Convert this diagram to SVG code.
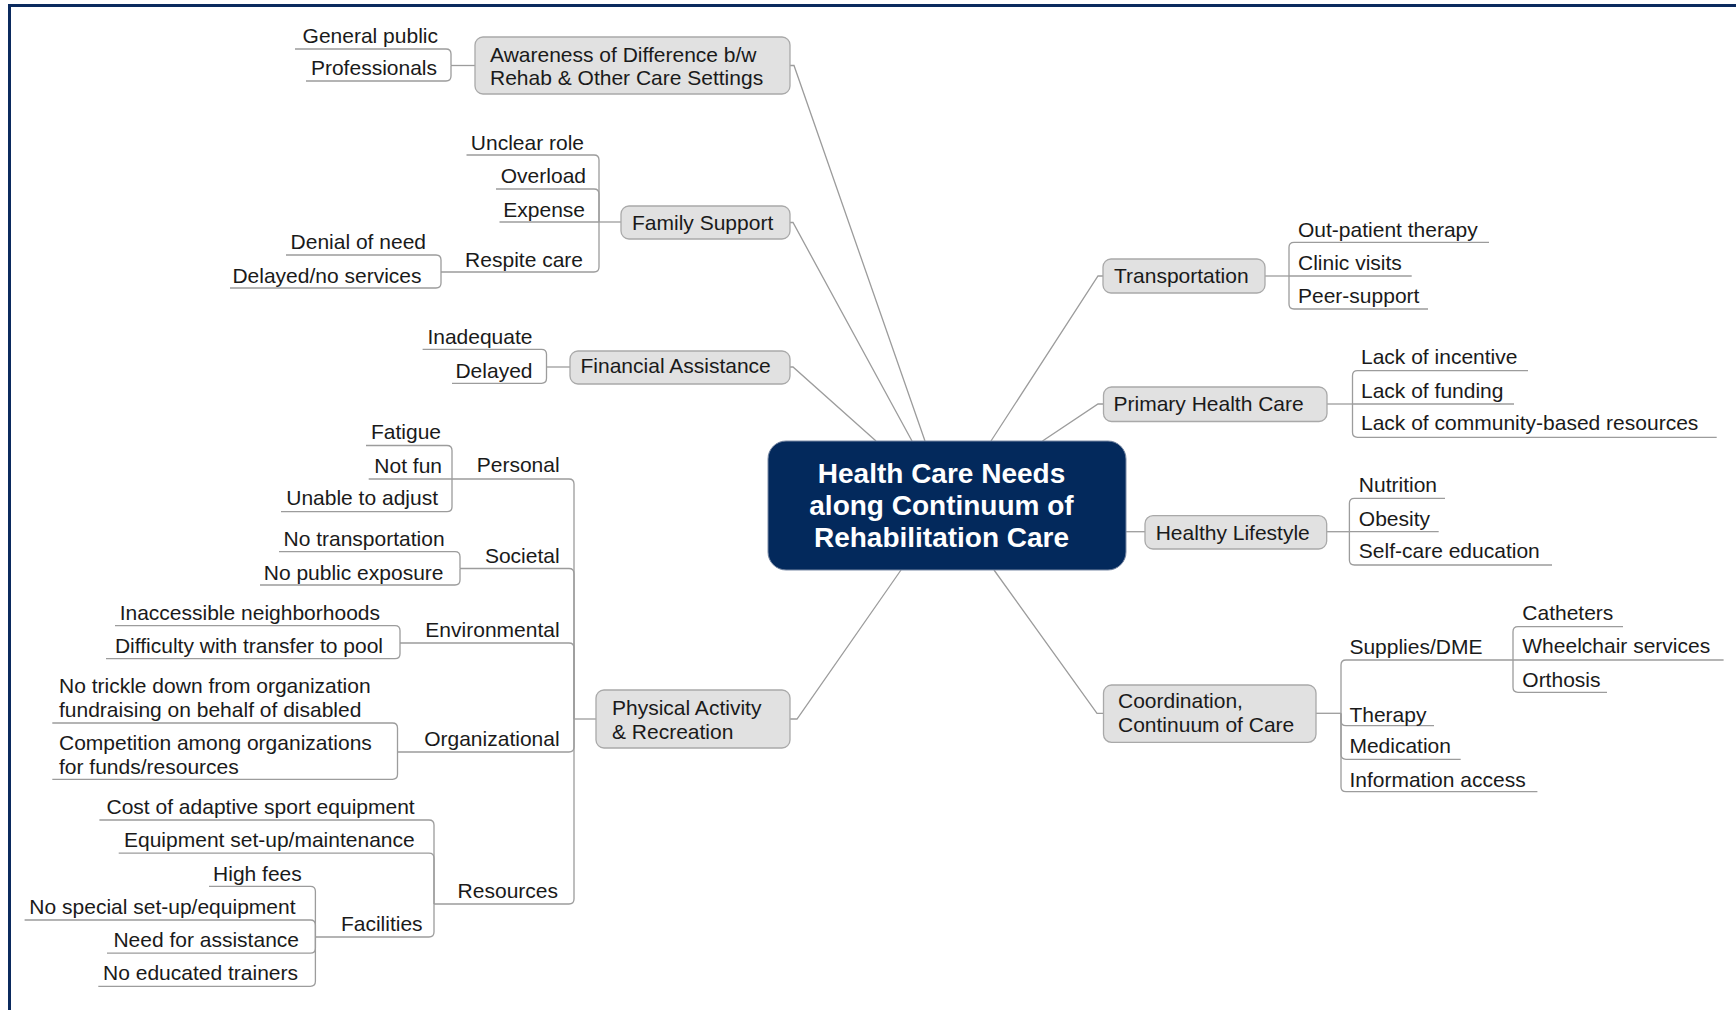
<svg xmlns="http://www.w3.org/2000/svg" width="1736" height="1010" viewBox="0 0 1736 1010">
<style>
.t{font-family:"Liberation Sans",Arial,sans-serif;font-size:21px;fill:#1a1a1a}
.e{text-anchor:end}
.box{fill:#e1e1e1;stroke:#a9a9a9;stroke-width:1.3}
.ln{fill:none;stroke:#9c9c9c;stroke-width:1.3}
.ctr{font-family:"Liberation Sans",Arial,sans-serif;font-size:28px;font-weight:bold;fill:#ffffff;text-anchor:middle}
</style>
<rect width="1736" height="1010" fill="#ffffff"/>
<path d="M9.5,1010 V5.5 H1736" fill="none" stroke="#0b2a5e" stroke-width="3"/>

<g id="connectors" class="ln">
<path d="M790,65.5 H794 L925,441"/>
<path d="M790,222.5 H793 L912,441"/>
<path d="M790,367 H793 L876,441"/>
<path d="M1103,276 H1098 L991,441"/>
<path d="M1103.5,404 H1098 L1042.5,441"/>
<path d="M1126,531.7 H1145"/>
<path d="M790,719 H797 L901,570"/>
<path d="M1103.5,713.3 H1097 L994,570"/>
<path d="M295,49 H446 Q451,49 451,54 V65.5"/>
<path d="M306,81 H446 Q451,81 451,76 V65.5"/>
<path d="M451,65.5 H475"/>
<path d="M466.5,155 H594 Q599,155 599,160 V222"/>
<path d="M496,189 H594 Q599,189 599,194 V222"/>
<path d="M499.5,222 H599"/>
<path d="M441,272 H594 Q599,272 599,267 V222"/>
<path d="M599,222 H621"/>
<path d="M286,255 H436 Q441,255 441,260 V272"/>
<path d="M230,288 H436 Q441,288 441,283 V272"/>
<path d="M422.6,349.3 H541.5 Q546.5,349.3 546.5,354.3 V367"/>
<path d="M452,383.3 H541.5 Q546.5,383.3 546.5,378.3 V367"/>
<path d="M546.5,367 H570"/>
<path d="M452,479 H569 Q574,479 574,484 V719"/>
<path d="M460,568.5 H569 Q574,568.5 574,573.5 V719"/>
<path d="M400,643 H569 Q574,643 574,648 V719"/>
<path d="M397.5,752 H569 Q574,752 574,747 V719"/>
<path d="M434,904 H569 Q574,904 574,899 V719"/>
<path d="M574,719 H596"/>
<path d="M366,445.5 H447 Q452,445.5 452,450.5 V479"/>
<path d="M368.7,479 H452"/>
<path d="M281,511.7 H447 Q452,511.7 452,506.7 V479"/>
<path d="M279,551.7 H455 Q460,551.7 460,556.7 V568.5"/>
<path d="M260,585 H455 Q460,585 460,580 V568.5"/>
<path d="M115,625.6 H395 Q400,625.6 400,630.6 V643"/>
<path d="M106,658.7 H395 Q400,658.7 400,653.7 V643"/>
<path d="M52.3,723 H392.5 Q397.5,723 397.5,728 V752"/>
<path d="M52.3,779.3 H392.5 Q397.5,779.3 397.5,774.3 V752"/>
<path d="M99.4,820 H429 Q434,820 434,825 V904"/>
<path d="M118.7,853.2 H429 Q434,853.2 434,858.2 V904"/>
<path d="M315.4,937 H429 Q434,937 434,932 V904"/>
<path d="M209,886.3 H310.4 Q315.4,886.3 315.4,891.3 V937"/>
<path d="M24.6,920 H310.4 Q315.4,920 315.4,925 V937"/>
<path d="M107,953.2 H310.4 Q315.4,953.2 315.4,948.2 V937"/>
<path d="M98.3,986.3 H310.4 Q315.4,986.3 315.4,981.3 V937"/>
<path d="M1489,242.3 H1294 Q1289,242.3 1289,247.3 V276"/>
<path d="M1411.7,276 H1289"/>
<path d="M1428,309 H1294 Q1289,309 1289,304 V276"/>
<path d="M1265,276 H1289"/>
<path d="M1528,370.7 H1357.5 Q1352.5,370.7 1352.5,375.7 V404"/>
<path d="M1514,404 H1352.5"/>
<path d="M1716.7,437.3 H1357.5 Q1352.5,437.3 1352.5,432.3 V404"/>
<path d="M1327,404 H1352.5"/>
<path d="M1445,498.3 H1354.4 Q1349.4,498.3 1349.4,503.3 V531.7"/>
<path d="M1438.7,531.7 H1349.4"/>
<path d="M1552,565 H1354.4 Q1349.4,565 1349.4,560 V531.7"/>
<path d="M1326.7,531.7 H1349.4"/>
<path d="M1513,660 H1346 Q1341,660 1341,665 V713.3"/>
<path d="M1434,725.7 H1346 Q1341,725.7 1341,720.7 V713.3"/>
<path d="M1460.7,759.3 H1346 Q1341,759.3 1341,754.3 V713.3"/>
<path d="M1537.4,791.7 H1346 Q1341,791.7 1341,786.7 V713.3"/>
<path d="M1316,713.3 H1341"/>
<path d="M1623,626.7 H1518 Q1513,626.7 1513,631.7 V660"/>
<path d="M1723.6,660 H1513"/>
<path d="M1607,692.3 H1518 Q1513,692.3 1513,687.3 V660"/>
</g>

<g id="center">
<rect x="768" y="441" width="358" height="129" rx="18" fill="#03295c" stroke="#7a8aa5" stroke-width="1"/>
<text class="ctr" x="941.5" y="483">Health Care Needs</text>
<text class="ctr" x="941.5" y="515">along Continuum of</text>
<text class="ctr" x="941.5" y="547">Rehabilitation Care</text>
</g>

<g id="awareness"><rect class="box" x="475" y="37" width="315" height="57" rx="8"/>
<text class="t" x="490" y="62">Awareness of Difference b/w</text>
<text class="t" x="490" y="84.5">Rehab &amp; Other Care Settings</text></g>
<g id="general-public"><text class="t e" x="438" y="43">General public</text></g>
<g id="professionals"><text class="t e" x="437" y="75">Professionals</text></g>

<g id="family-support"><rect class="box" x="621" y="206" width="169" height="33" rx="8"/>
<text class="t" x="632" y="230">Family Support</text></g>
<g id="unclear-role"><text class="t e" x="584" y="150">Unclear role</text></g>
<g id="overload"><text class="t e" x="586" y="183">Overload</text></g>
<g id="expense"><text class="t e" x="585" y="216.5">Expense</text></g>
<g id="respite-care"><text class="t e" x="583" y="266.5">Respite care</text></g>
<g id="denial-of-need"><text class="t e" x="426" y="249">Denial of need</text></g>
<g id="delayed-no-services"><text class="t e" x="421.5" y="283">Delayed/no services</text></g>

<g id="financial-assistance"><rect class="box" x="570" y="351" width="220" height="33" rx="8"/>
<text class="t" x="580.5" y="373">Financial Assistance</text></g>
<g id="inadequate"><text class="t e" x="532.5" y="344">Inadequate</text></g>
<g id="delayed"><text class="t e" x="532.5" y="377.7">Delayed</text></g>

<g id="physical-activity"><rect class="box" x="596" y="690" width="194" height="58" rx="8"/>
<text class="t" x="612" y="715">Physical Activity</text>
<text class="t" x="612" y="738.5">&amp; Recreation</text></g>
<g id="personal"><text class="t e" x="559.6" y="472">Personal</text></g>
<g id="fatigue"><text class="t e" x="441" y="439">Fatigue</text></g>
<g id="not-fun"><text class="t e" x="442" y="473">Not fun</text></g>
<g id="unable-to-adjust"><text class="t e" x="438" y="505">Unable to adjust</text></g>
<g id="societal"><text class="t e" x="559.6" y="562.6">Societal</text></g>
<g id="no-transportation"><text class="t e" x="444.6" y="546">No transportation</text></g>
<g id="no-public-exposure"><text class="t e" x="443.5" y="580">No public exposure</text></g>
<g id="environmental"><text class="t e" x="559.6" y="636.5">Environmental</text></g>
<g id="inaccessible"><text class="t e" x="380" y="620">Inaccessible neighborhoods</text></g>
<g id="difficulty"><text class="t e" x="383" y="653">Difficulty with transfer to pool</text></g>
<g id="organizational"><text class="t e" x="559.6" y="746">Organizational</text></g>
<g id="no-trickle"><text class="t" x="59" y="692.6">No trickle down from organization</text>
<text class="t" x="59" y="717">fundraising on behalf of disabled</text></g>
<g id="competition"><text class="t" x="59" y="750">Competition among organizations</text>
<text class="t" x="59" y="773.5">for funds/resources</text></g>
<g id="resources"><text class="t e" x="558" y="898">Resources</text></g>
<g id="cost"><text class="t e" x="414.7" y="814.3">Cost of adaptive sport equipment</text></g>
<g id="equipment"><text class="t e" x="414.7" y="847.4">Equipment set-up/maintenance</text></g>
<g id="facilities"><text class="t e" x="422.6" y="931">Facilities</text></g>
<g id="high-fees"><text class="t e" x="301.8" y="881">High fees</text></g>
<g id="no-special"><text class="t e" x="295.5" y="914.3">No special set-up/equipment</text></g>
<g id="need-assistance"><text class="t e" x="299" y="946.6">Need for assistance</text></g>
<g id="no-educated"><text class="t e" x="298" y="980.4">No educated trainers</text></g>

<g id="transportation"><rect class="box" x="1103" y="259" width="162" height="34" rx="8"/>
<text class="t" x="1114" y="283">Transportation</text></g>
<g id="out-patient"><text class="t" x="1298" y="237">Out-patient therapy</text></g>
<g id="clinic-visits"><text class="t" x="1298" y="270">Clinic visits</text></g>
<g id="peer-support"><text class="t" x="1298" y="303">Peer-support</text></g>

<g id="primary-health-care"><rect class="box" x="1103.5" y="387" width="223.5" height="34.5" rx="8"/>
<text class="t" x="1113.5" y="411">Primary Health Care</text></g>
<g id="lack-incentive"><text class="t" x="1361" y="364.3">Lack of incentive</text></g>
<g id="lack-funding"><text class="t" x="1361" y="398.3">Lack of funding</text></g>
<g id="lack-community"><text class="t" x="1361" y="430">Lack of community-based resources</text></g>

<g id="healthy-lifestyle"><rect class="box" x="1145" y="515.7" width="181.7" height="33.3" rx="8"/>
<text class="t" x="1155.7" y="540">Healthy Lifestyle</text></g>
<g id="nutrition"><text class="t" x="1358.8" y="491.7">Nutrition</text></g>
<g id="obesity"><text class="t" x="1358.8" y="525.7">Obesity</text></g>
<g id="self-care"><text class="t" x="1358.8" y="558.3">Self-care education</text></g>

<g id="coordination"><rect class="box" x="1103.5" y="685" width="212.5" height="57.3" rx="8"/>
<text class="t" x="1118" y="708.3">Coordination,</text>
<text class="t" x="1118" y="731.7">Continuum of Care</text></g>
<g id="supplies"><text class="t" x="1349.4" y="654.3">Supplies/DME</text></g>
<g id="therapy"><text class="t" x="1349.4" y="721.7">Therapy</text></g>
<g id="medication"><text class="t" x="1349.4" y="753.3">Medication</text></g>
<g id="information-access"><text class="t" x="1349.4" y="786.7">Information access</text></g>
<g id="catheters"><text class="t" x="1522.3" y="620">Catheters</text></g>
<g id="wheelchair"><text class="t" x="1522.3" y="653.3">Wheelchair services</text></g>
<g id="orthosis"><text class="t" x="1522.3" y="686.7">Orthosis</text></g>
</svg>
